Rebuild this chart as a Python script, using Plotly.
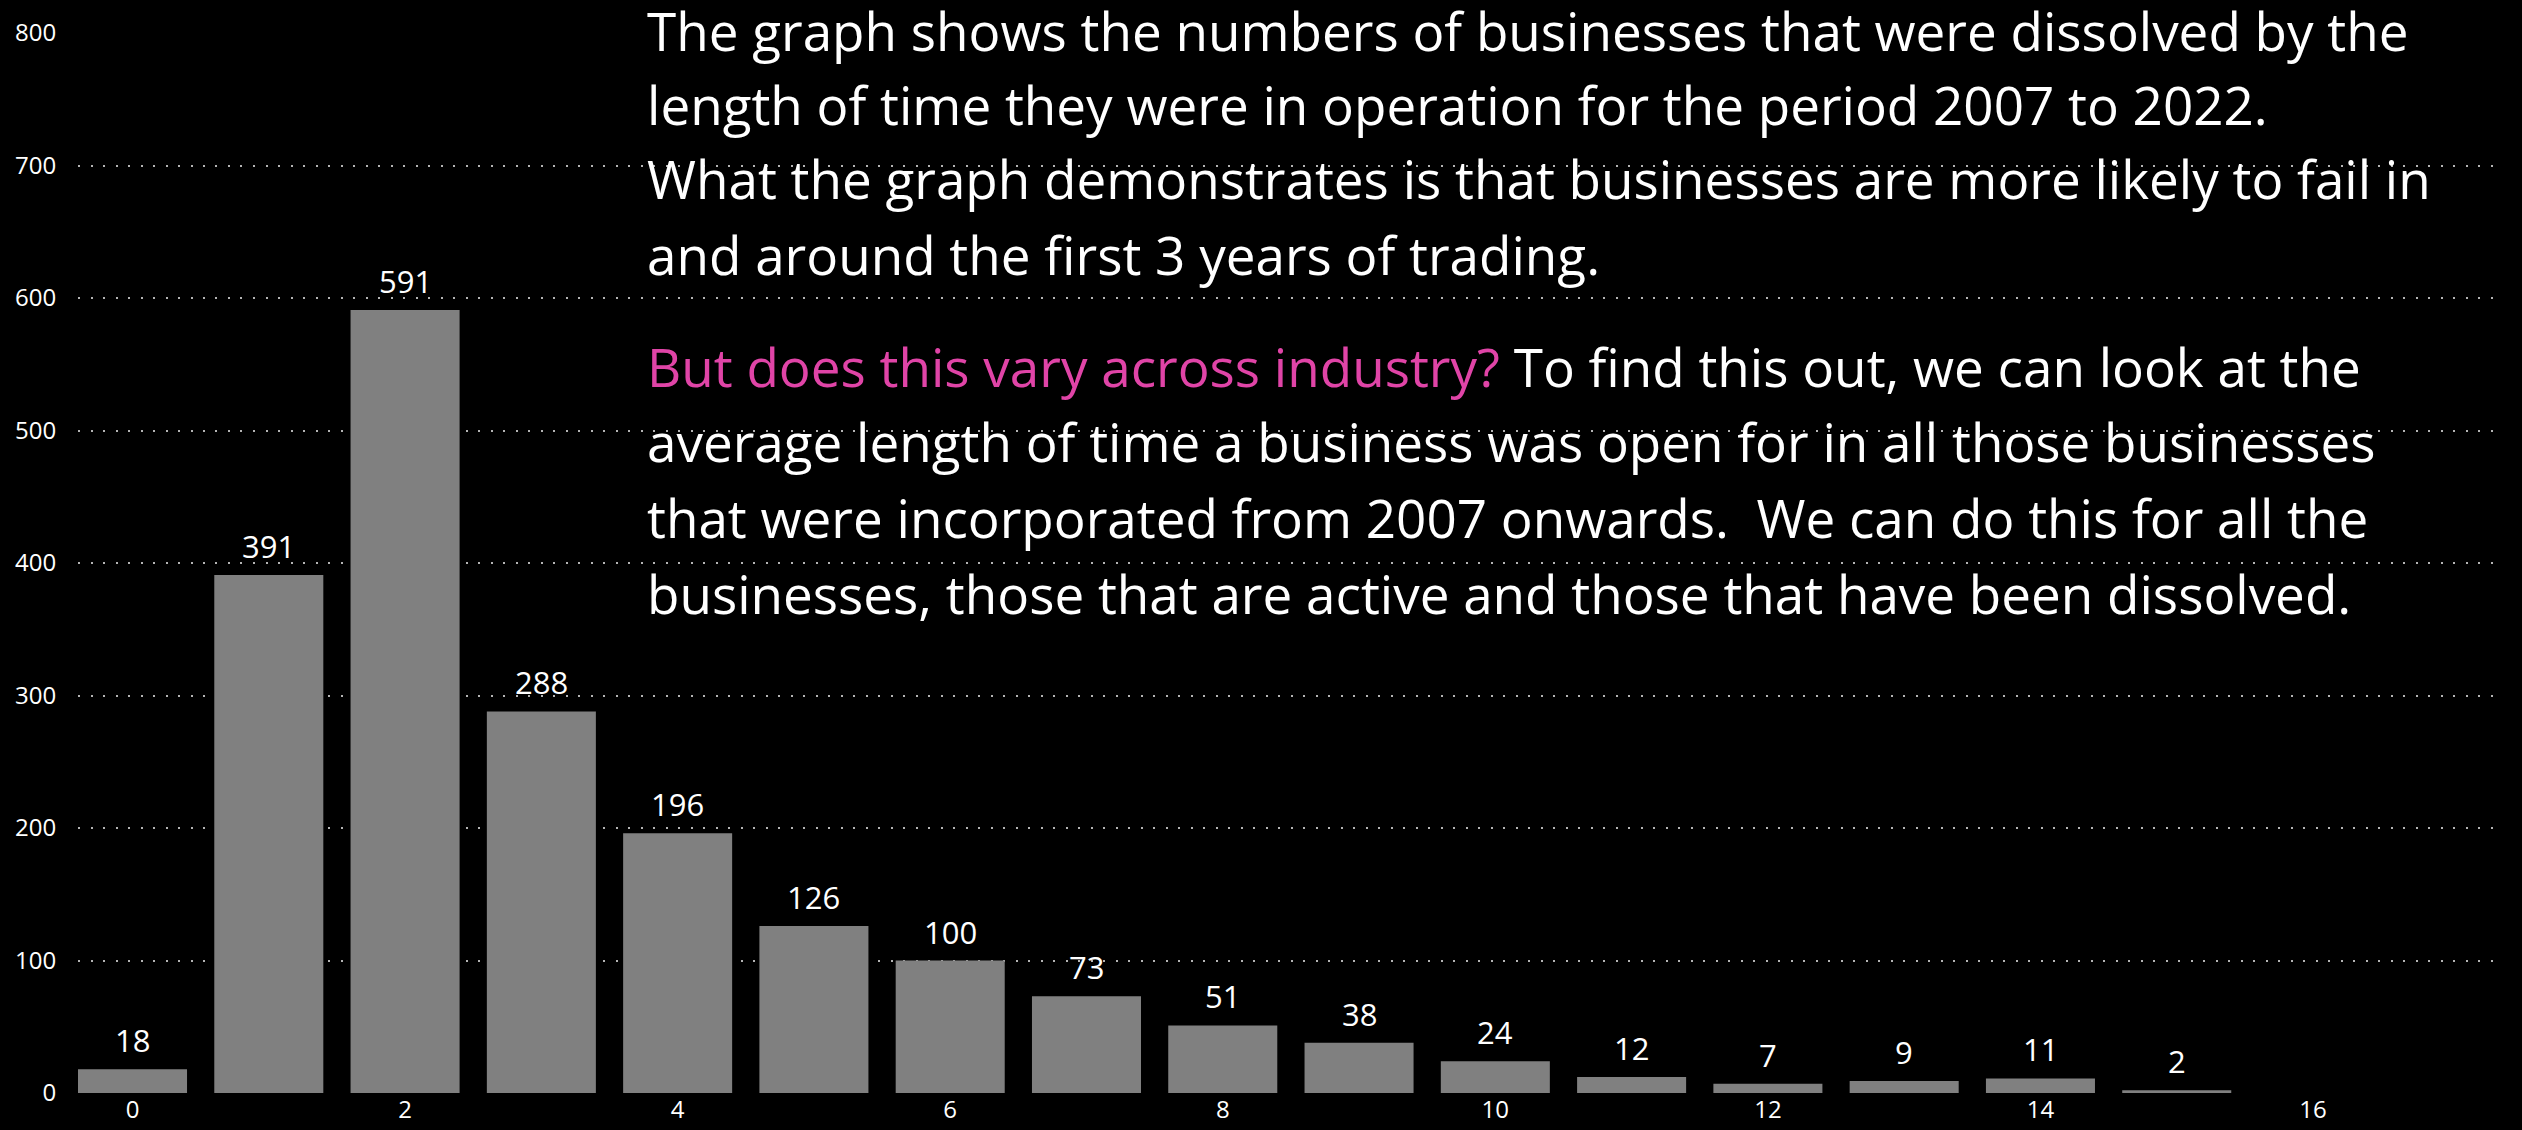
import plotly.graph_objects as go

# ---- data ----
years_open = [0, 1, 2, 3, 4, 5, 6, 7, 8, 9, 10, 11, 12, 13, 14, 15]
dissolved = [18, 391, 591, 288, 196, 126, 100, 73, 51, 38, 24, 12, 7, 9, 11, 2]
x_ticks = [0, 2, 4, 6, 8, 10, 12, 14, 16]
y_ticks = [0, 100, 200, 300, 400, 500, 600, 700, 800]

PINK = "#E044A7"
para1 = [
    "The graph shows the numbers of businesses that were dissolved by the",
    "length of time they were in operation for the period 2007 to 2022.",
    "What the graph demonstrates is that businesses are more likely to fail in",
    "and around the first 3 years of trading.",
]
para2 = [
    f"<span style='color:{PINK}'>But does this vary across industry?</span> To find this out, we can look at the",
    "average length of time a business was open for in all those businesses",
    "that were incorporated from 2007 onwards.&nbsp; We can do this for all the",
    "businesses, those that are active and those that have been dissolved.",
]

FONT = "Open Sans, Noto Sans, sans-serif"
W, H = 2522, 1130
ML, MR, MT, MB = 78, 25, 33, 37
plot_w = W - ML - MR
plot_h = H - MT - MB

fig = go.Figure()
fig.add_trace(go.Bar(
    x=years_open, y=dissolved, width=0.8,
    marker=dict(color="#808080", line=dict(width=0)),
    hoverinfo="x+y",
))

annotations = []
# bar value labels
for xv, yv in zip(years_open, dissolved):
    annotations.append(dict(
        x=xv, y=yv, xref="x", yref="y", text=str(yv), showarrow=False,
        xanchor="center", yanchor="bottom", yshift=6,
        font=dict(family=FONT, size=31, color="white"),
    ))

# narrative text, one annotation per line
text_left_px = 645
line_centers_px = [30, 104, 179, 254, 366, 442, 517, 593]
for line, ypx in zip(para1 + para2, line_centers_px):
    annotations.append(dict(
        x=(text_left_px - ML) / plot_w, y=(H - MB - ypx) / plot_h,
        xref="paper", yref="paper", text=line, showarrow=False,
        xanchor="left", yanchor="middle", align="left",
        font=dict(family=FONT, size=53, color="white"),
    ))

fig.update_layout(
    width=W, height=H,
    margin=dict(l=ML, r=MR, t=MT, b=MB, pad=0, autoexpand=False),
    paper_bgcolor="black", plot_bgcolor="black",
    showlegend=False,
    font=dict(family=FONT, color="white"),
    annotations=annotations,
    xaxis=dict(
        range=[-0.4, 17.35], tickmode="array", tickvals=x_ticks,
        ticktext=[str(v) for v in x_ticks], automargin=False,
        showgrid=False, zeroline=False, showline=False,
        ticks="",
        tickfont=dict(family=FONT, size=24, color="white"),
    ),
    yaxis=dict(
        range=[0, 800], tickmode="array", tickvals=y_ticks,
        ticktext=[str(v) for v in y_ticks], automargin=False,
        showgrid=True, gridcolor="#b4b4b4", gridwidth=2, griddash="2px,10.5px",
        zeroline=False, showline=False,
        ticks="outside", ticklen=16, tickcolor="rgba(0,0,0,0)",
        tickfont=dict(family=FONT, size=24, color="white"),
    ),
    bargap=0.2,
)

fig.write_html(
    "out.html",
    config={"displayModeBar": False},
    post_script="document.body.style.margin='0';document.body.style.background='black';",
)
